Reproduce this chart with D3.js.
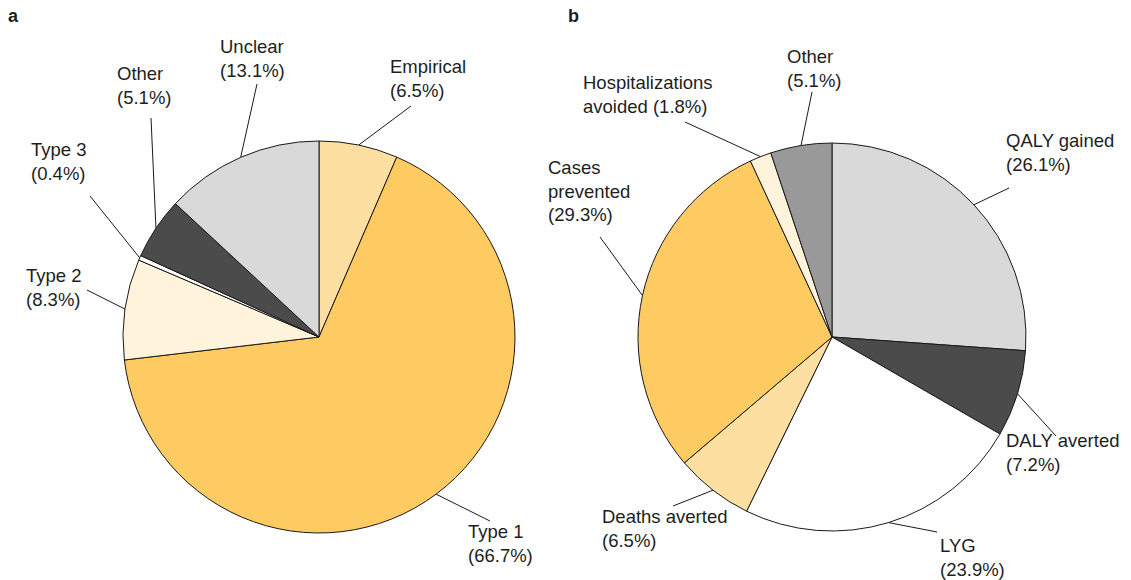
<!DOCTYPE html>
<html>
<head>
<meta charset="utf-8">
<script src="https://cdn.jsdelivr.net/npm/d3@7"></script>
<style>
  html, body { margin: 0; padding: 0; background: #fff; }
  svg { display: block; }
  text { font-family: "Liberation Sans", Arial, Helvetica, sans-serif; fill: #1e1e1e; }
</style>
</head>
<body>
<svg id="chart" width="1131" height="580"></svg>
<script>
// Panel a: model type shares (%)
const modelCategories = ["Empirical", "Type 1", "Type 2", "Type 3", "Other", "Unclear"];
const modelValues     = [6.5, 66.7, 8.3, 0.4, 5.1, 13.1];
const modelColors     = ["#fddfa1", "#fecb62", "#fff3dc", "#ffffff", "#4b4b4b", "#d9d9d9"];

// Panel b: outcome measure shares (%)
const outcomeCategories = ["QALY gained", "DALY averted", "LYG", "Deaths averted", "Cases prevented", "Hospitalizations avoided", "Other"];
const outcomeValues     = [26.1, 7.2, 23.9, 6.5, 29.3, 1.8, 5.1];
const outcomeColors     = ["#d9d9d9", "#4b4b4b", "#ffffff", "#fddfa1", "#fecb62", "#fff3dc", "#999999"];

// Label text lines (the value line is appended from the data)
const modelLabelLines = {
  "Empirical": ["Empirical"], "Type 1": ["Type 1"], "Type 2": ["Type 2"],
  "Type 3": ["Type 3"], "Other": ["Other"], "Unclear": ["Unclear"]
};
const outcomeLabelLines = {
  "QALY gained": ["QALY gained"], "DALY averted": ["DALY averted"], "LYG": ["LYG"],
  "Deaths averted": ["Deaths averted"], "Cases prevented": ["Cases", "prevented"],
  "Hospitalizations avoided": ["Hospitalizations", "avoided VAL"], "Other": ["Other"]
};

// Layout: label anchor (left x, first baseline) and leader outer end, per slice
const modelLayout = {
  "Empirical": { x: 390, y: 73, lx: 411, ly: 106 },
  "Type 1":    { x: 468, y: 538, lx: 490, ly: 521 },
  "Type 2":    { x: 26,  y: 282, lx: 87,  ly: 290 },
  "Type 3":    { x: 31,  y: 156, lx: 90,  ly: 196 },
  "Other":     { x: 117, y: 80,  lx: 151, ly: 118 },
  "Unclear":   { x: 220, y: 53,  lx: 257, ly: 84 }
};
const outcomeLayout = {
  "QALY gained":              { x: 1006, y: 147, lx: 1009, ly: 188 },
  "DALY averted":             { x: 1006, y: 447, lx: 1056, ly: 436 },
  "LYG":                      { x: 940,  y: 552, lx: 937,  ly: 532 },
  "Deaths averted":           { x: 602,  y: 523, lx: 673,  ly: 506 },
  "Cases prevented":          { x: 548,  y: 174, lx: 600,  ly: 237 },
  "Hospitalizations avoided": { x: 583,  y: 89,  lx: 685,  ly: 122 },
  "Other":                    { x: 787,  y: 63,  lx: 812,  ly: 92 }
};

const svg = d3.select("#chart");
const fontSize = 18.5;
const lineGap = 23.5;

function drawPie(opts) {
  const { cx, cy, r, cats, vals, colors, lines, layout, tag } = opts;
  const data = cats.map((c, i) => ({ cat: c, value: vals[i], color: colors[i] }));
  const pie = d3.pie().sort(null).value(d => d.value);
  const arcs = pie(data);
  const arc = d3.arc().innerRadius(0).outerRadius(r);
  const edge = d3.arc().innerRadius(r).outerRadius(r);

  const g = svg.append("g").attr("transform", `translate(${cx},${cy})`);
  g.selectAll("path.slice").data(arcs).join("path")
    .attr("class", "slice")
    .attr("d", arc)
    .attr("fill", d => d.data.color)
    .attr("stroke", "#1a1a1a")
    .attr("stroke-width", 1)
    .attr("stroke-linejoin", "round");

  // Leader lines from the slice rim to each label
  g.selectAll("line.leader").data(arcs).join("line")
    .attr("class", "leader")
    .attr("x1", d => edge.centroid(d)[0])
    .attr("y1", d => edge.centroid(d)[1])
    .attr("x2", d => layout[d.data.cat].lx - cx)
    .attr("y2", d => layout[d.data.cat].ly - cy)
    .attr("stroke", "#1a1a1a")
    .attr("stroke-width", 1);

  // Labels: name line(s) plus the percentage
  arcs.forEach(d => {
    const L = layout[d.data.cat];
    const val = `(${d3.format(".1f")(d.data.value)}%)`;
    let ls = lines[d.data.cat].slice();
    if (ls[ls.length - 1].includes("VAL")) {
      ls[ls.length - 1] = ls[ls.length - 1].replace("VAL", val);
    } else {
      ls.push(val);
    }
    const t = svg.append("text")
      .attr("x", L.x).attr("y", L.y)
      .attr("font-size", fontSize);
    ls.forEach((s, i) => {
      t.append("tspan").attr("x", L.x).attr("dy", i === 0 ? 0 : lineGap).text(s);
    });
  });

  svg.append("text")
    .attr("x", tag.x).attr("y", tag.y)
    .attr("font-size", 18).attr("font-weight", "bold")
    .text(tag.text);
}

drawPie({
  cx: 319, cy: 337, r: 196,
  cats: modelCategories, vals: modelValues, colors: modelColors,
  lines: modelLabelLines, layout: modelLayout,
  tag: { x: 8, y: 22, text: "a" }
});

drawPie({
  cx: 832, cy: 337, r: 194,
  cats: outcomeCategories, vals: outcomeValues, colors: outcomeColors,
  lines: outcomeLabelLines, layout: outcomeLayout,
  tag: { x: 568, y: 22, text: "b" }
});
</script>
</body>
</html>
